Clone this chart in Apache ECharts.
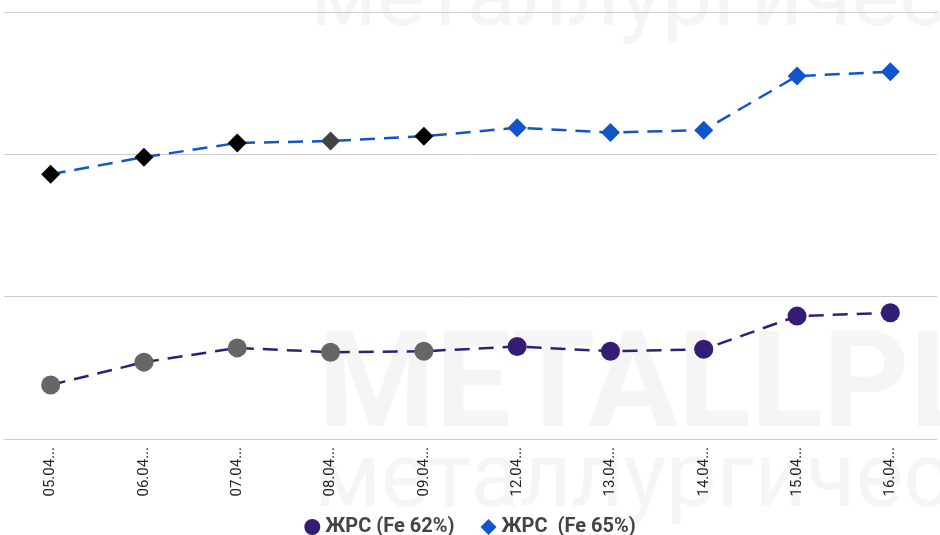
<!DOCTYPE html>
<html>
<head>
    <meta charset="utf-8">
    <title>ECharts</title>
    <script src="https://cdn.jsdelivr.net/npm/echarts@6/dist/echarts.min.js"></script>
    <style>
        html, body { margin: 0; padding: 0; background: #fff; }
    </style>
</head>
<body>
    <div id="main" style="width:940px;height:535px;"></div>
    <script type="text/javascript">
        var dates = ["05.04.2021", "06.04.2021", "07.04.2021", "08.04.2021", "09.04.2021",
                     "12.04.2021", "13.04.2021", "14.04.2021", "15.04.2021", "16.04.2021"];
        var fe62 = [161.4, 166.2, 169.2, 168.3, 168.5, 169.5, 168.5, 168.9, 175.9, 176.6];
        var fe65 = [205.8, 209.4, 212.4, 212.8, 213.8, 215.6, 214.6, 215.1, 226.5, 227.4];
        // цвет точек по дням (первые дни выделены серым/чёрным)
        var fe62Colors = ["#666666", "#666666", "#666666", "#666666", "#666666",
                          "#351c75", "#351c75", "#351c75", "#351c75", "#351c75"];
        var fe65Colors = ["#000000", "#000000", "#000000", "#434343", "#000000",
                          "#1155cc", "#1155cc", "#1155cc", "#1155cc", "#1155cc"];

        function withColors(values, colors) {
            return values.map(function (v, i) {
                return { value: v, itemStyle: { color: colors[i] } };
            });
        }

        var myChart = echarts.init(document.getElementById("main"));
        var option = {
            animation: false,
            textStyle: { fontFamily: "Roboto" },
            graphic: [
                { type: "text", left: 310, top: -43, z: -10, silent: true,
                  style: { text: "металлургичес", font: "90px Roboto", fill: "#f5f5f5" } },
                { type: "text", left: 318, top: 325, z: -10, silent: true,
                  style: { text: "METALLPL", font: "bold 134px Roboto", fill: "#f5f5f5" } },
                { type: "text", left: 314, top: 438, z: -10, silent: true,
                  style: { text: "металлургичес", font: "90px Roboto", fill: "#f5f5f5" } }
            ],
            legend: {
                bottom: -7,
                left: "center",
                itemGap: 26,
                itemWidth: 16,
                itemHeight: 16,
                textStyle: { fontSize: 20, color: "#444", fontWeight: "bold", fontFamily: "Roboto" },
                data: [
                    { name: "ЖРС (Fe 62%)", icon: "circle", itemStyle: { color: "#351c75" } },
                    { name: "ЖРС  (Fe 65%)", icon: "diamond", itemStyle: { color: "#1155cc" } }
                ]
            },
            grid: { left: 4, right: 3, top: 12, bottom: 96, containLabel: false },
            xAxis: {
                type: "category",
                data: dates,
                boundaryGap: true,
                axisLine: { show: true, lineStyle: { color: "#cccccc", width: 1 } },
                axisTick: { show: false },
                axisLabel: {
                    rotate: 90,
                    fontSize: 15,
                    color: "#222",
                    margin: 8,
                    formatter: function (v) { return v.slice(0, 5) + "..."; }
                }
            },
            yAxis: {
                type: "value",
                min: 150,
                max: 240,
                interval: 30,
                axisLabel: { show: false },
                axisLine: { show: false },
                axisTick: { show: false },
                splitLine: { lineStyle: { color: "#cccccc", width: 1 } }
            },
            series: [
                {
                    name: "ЖРС (Fe 62%)",
                    type: "line",
                    data: withColors(fe62, fe62Colors),
                    symbol: "circle",
                    symbolSize: 19,
                    itemStyle: { color: "#351c75" },
                    lineStyle: { color: "#351c75", width: 2.5, type: [15, 9] }
                },
                {
                    name: "ЖРС  (Fe 65%)",
                    type: "line",
                    data: withColors(fe65, fe65Colors),
                    symbol: "diamond",
                    symbolSize: 19,
                    itemStyle: { color: "#1155cc" },
                    lineStyle: { color: "#1155cc", width: 2.5, type: [15, 9] }
                }
            ]
        };
        myChart.setOption(option);
    </script>
</body>
</html>
